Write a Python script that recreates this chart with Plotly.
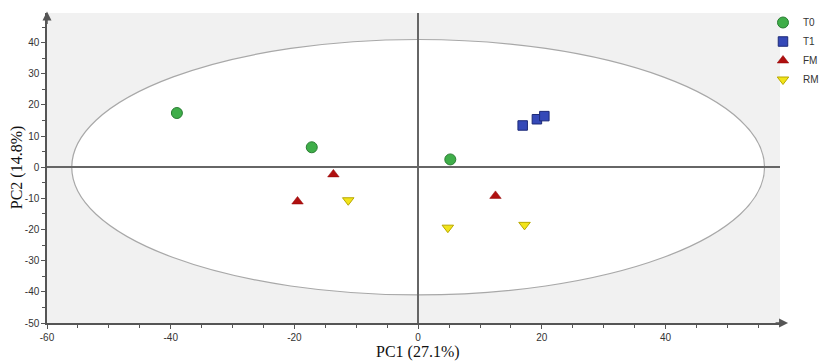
import plotly.graph_objects as go

groups = ["T0", "T1", "FM", "RM"]
t0_x = [-39.0, -17.2, 5.2]
t0_y = [17.4, 6.4, 2.5]
t1_x = [16.9, 19.2, 20.4]
t1_y = [13.4, 15.4, 16.4]
fm_x = [-13.7, -19.5, 12.5]
fm_y = [-2.3, -11.0, -9.2]
rm_x = [-11.3, 4.8, 17.2]
rm_y = [-10.6, -19.4, -18.5]
ellipse_a = 56.0
ellipse_b = 41.0
x_ticks = [-60, -40, -20, 0, 20, 40]
y_ticks = [-50, -40, -30, -20, -10, 0, 10, 20, 30, 40]

fig = go.Figure()

fig.add_shape(type="circle", xref="x", yref="y",
              x0=-ellipse_a, x1=ellipse_a, y0=-ellipse_b, y1=ellipse_b,
              fillcolor="white", line=dict(color="#a8a8a8", width=1.2), layer="below")

styles = {
    "T0": dict(symbol="circle", size=11, color="#3fae49", line=dict(color="#2a7d33", width=1)),
    "T1": dict(symbol="square", size=9.5, color="#3549b8", line=dict(color="#1d2a78", width=1)),
    "FM": dict(symbol="triangle-up", size=10, color="#b01010", line=dict(color="#900000", width=0.5)),
    "RM": dict(symbol="triangle-down", size=10, color="#f2e41a", line=dict(color="#b8a800", width=1)),
}
data = {"T0": (t0_x, t0_y), "T1": (t1_x, t1_y), "FM": (fm_x, fm_y), "RM": (rm_x, rm_y)}
for g in groups:
    xs, ys = data[g]
    fig.add_trace(go.Scatter(x=xs, y=ys, mode="markers", name=g, marker=styles[g]))

axis_common = dict(
    showgrid=False, showline=True, linecolor="#555555", linewidth=1.5,
    ticks="outside", ticklen=4, tickcolor="#555555", tickwidth=1,
    zeroline=True, zerolinecolor="#666666", zerolinewidth=1.5,
    tickfont=dict(family="Liberation Sans, Arial", size=10, color="#333333"),
    automargin=False,
)

fig.update_xaxes(range=[-60, 58.5], tickvals=x_ticks, ticktext=[str(v) for v in x_ticks],
                 minor=dict(dtick=5, tick0=0, ticks="outside", ticklen=3, tickcolor="#555555"),
                 **axis_common)
fig.update_yaxes(range=[-50, 49.5], tickvals=y_ticks, ticktext=[str(v) for v in y_ticks],
                 minor=dict(dtick=5, tick0=0, ticks="outside", ticklen=3, tickcolor="#555555"),
                 **axis_common)

title_font = dict(family="Liberation Serif, Times New Roman", size=16, color="#111111")
fig.add_annotation(xref="x", yref="paper", x=0, y=0, yshift=-29, yanchor="middle",
                   text="PC1 (27.1%)", showarrow=False, font=title_font)
fig.add_annotation(xref="paper", yref="y", x=0, y=0, xshift=-30, xanchor="center",
                   text="PC2 (14.8%)", textangle=-90, showarrow=False, font=title_font)

# axis arrows
fig.add_annotation(xref="paper", yref="paper", x=1.011, y=0, ax=-14, ay=0, text="",
                   showarrow=True, arrowhead=2, arrowsize=1.2, arrowwidth=1.5, arrowcolor="#555555")
fig.add_annotation(xref="paper", yref="paper", x=0, y=1.005, ax=0, ay=14, text="",
                   showarrow=True, arrowhead=2, arrowsize=1.2, arrowwidth=1.5, arrowcolor="#555555")

# page body has an 8px default margin; figure sized to fit the 829x363 window
fig.update_layout(
    width=821, height=355,
    margin=dict(l=39, r=49, t=5, b=40, autoexpand=False),
    plot_bgcolor="#f1f1f1", paper_bgcolor="white",
    legend=dict(xref="container", yref="container", x=0.9196, y=1.018,
                xanchor="left", yanchor="top",
                font=dict(family="Liberation Sans, Arial", size=10, color="#333333"),
                itemwidth=30, tracegroupgap=0, bgcolor="rgba(0,0,0,0)"),
    showlegend=True,
)

fig.write_html("out.html")
